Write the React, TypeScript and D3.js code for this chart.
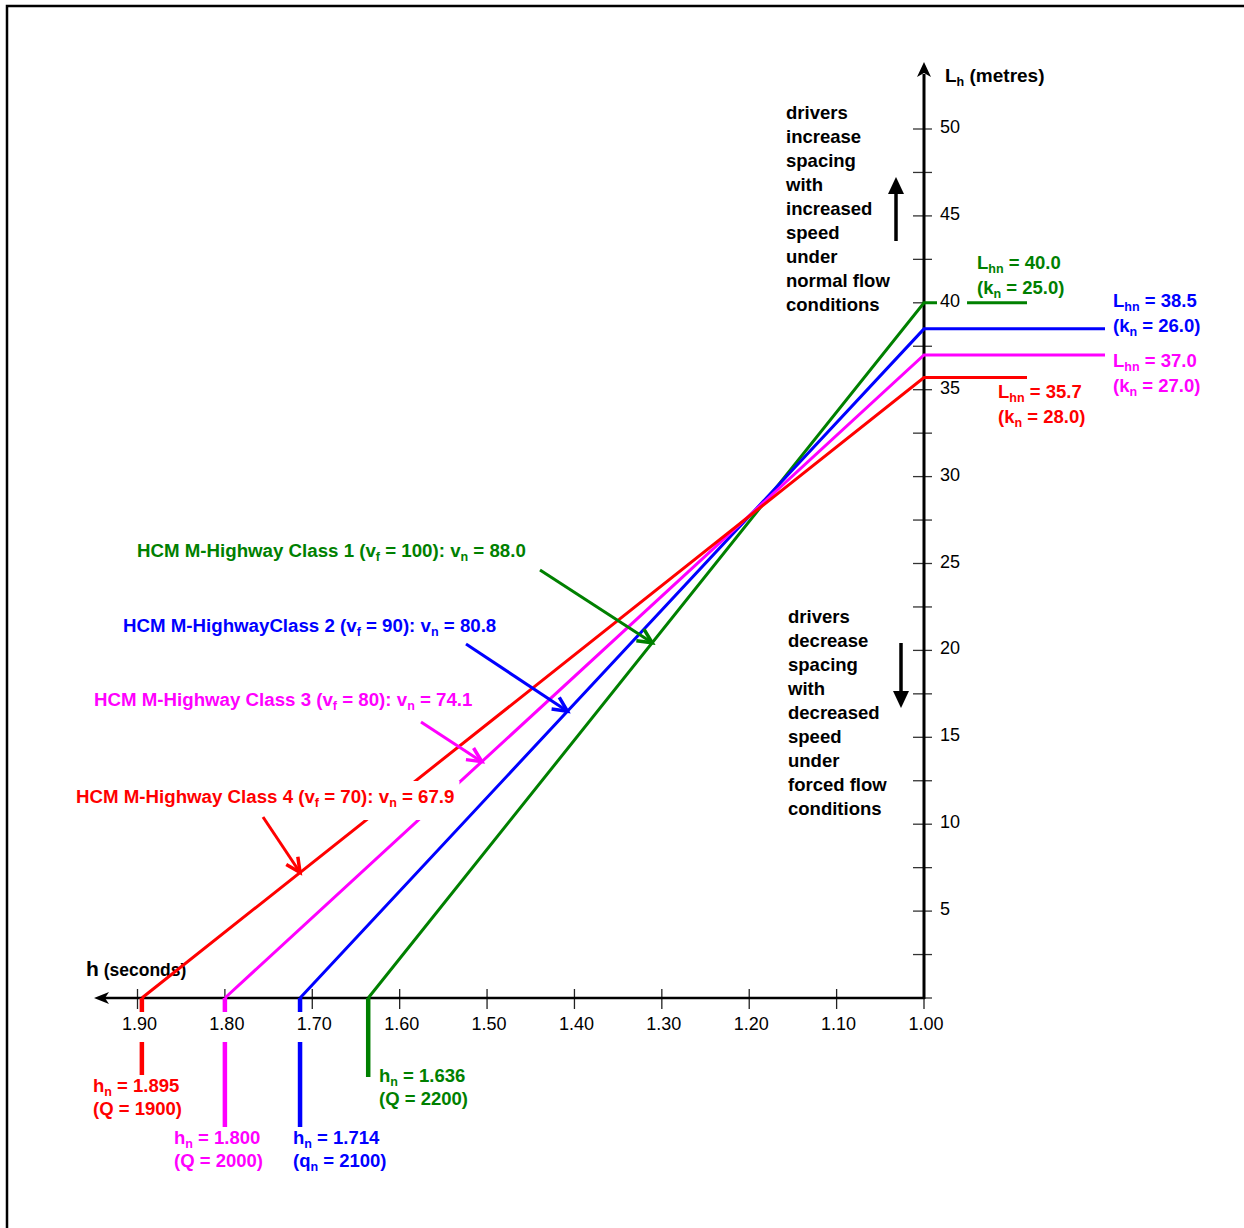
import React, { useRef, useEffect } from "react";
import * as d3 from "d3";

const W = 1244;
const H = 1228;
const FONT = "'Liberation Sans', Arial, Helvetica, sans-serif";

// series (one entry per HCM class)
const classNames = ["HCM M-Highway Class 1", "HCM M-HighwayClass 2", "HCM M-Highway Class 3", "HCM M-Highway Class 4"];
const freeFlowSpeeds = [100, 90, 80, 70];
const normalSpeeds = [88.0, 80.8, 74.1, 67.9];
const normalHeadways = [1.636, 1.714, 1.8, 1.895];
const normalSpacings = [40.0, 38.5, 37.0, 35.7];
const normalDensities = [25.0, 26.0, 27.0, 28.0];
const normalFlows = [2200, 2100, 2000, 1900];
const flowSymbols = [["Q", ""], ["q", "n"], ["Q", ""], ["Q", ""]];
const seriesColors = ["#008000", "#0000ff", "#ff00ff", "#ff0000"];
// headway where each label's pointer touches its line
const pointerHeadways = [1.311, 1.408, 1.506, 1.714];

// axes
const xTicks = [1.0, 1.1, 1.2, 1.3, 1.4, 1.5, 1.6, 1.7, 1.8, 1.9];
const yTicks = [0, 2.5, 5, 7.5, 10, 12.5, 15, 17.5, 20, 22.5, 25, 27.5, 30, 32.5, 35, 37.5, 40, 42.5, 45, 47.5, 50];
const yTickLabels = [5, 10, 15, 20, 25, 30, 35, 40, 45, 50];

const upperNote = ["drivers", "increase", "spacing", "with", "increased", "speed", "under", "normal flow", "conditions"];
const lowerNote = ["drivers", "decrease", "spacing", "with", "decreased", "speed", "under", "forced flow", "conditions"];

// layout (pixels)
const classLabelPos = [[137, 557], [123, 632], [94, 706], [76, 803]];
const pointerTails = [[540, 570], [466, 644], [421, 722], [263, 817]];
const spacingLabelPos = [[977, 269], [1113, 307], [1113, 367], [998, 398]];
const spacingLineEnd = [1027, 1105, 1105, 1027];
const headwayLabelPos = [[379, 1082], [293, 1144], [174, 1144], [93, 1092]];
const dropEnd = [1077, 1127, 1127, 1075];

type Part = [string, boolean];

function rich(g: any, x: number, y: number, parts: Part[], size: number, color: string) {
  const t = g.append("text")
    .attr("x", x).attr("y", y)
    .attr("font-family", FONT)
    .attr("font-weight", "bold")
    .attr("font-size", size)
    .attr("fill", color);
  let shift = 0;
  parts.forEach(([s, sub]) => {
    const target = sub ? 4 : 0;
    t.append("tspan")
      .attr("font-size", sub ? 12.5 : size)
      .attr("dy", target - shift)
      .text(s);
    shift = target;
  });
  return t;
}

function whiteBehind(g: any, text: any, pad: [number, number, number, number]) {
  const b = text.node().getBBox();
  g.insert("rect", () => text.node())
    .attr("x", b.x - pad[3])
    .attr("y", b.y - pad[0])
    .attr("width", b.width + pad[1] + pad[3])
    .attr("height", b.height + pad[0] + pad[2])
    .attr("fill", "white");
}

const App = () => {
  const svgRef = useRef<SVGSVGElement>(null);

  useEffect(() => {
    const svg = d3.select(svgRef.current);
    svg.selectAll("*").remove();

    const x = d3.scaleLinear().domain([1.0, 1.9]).range([924, 137.5]);
    const y = d3.scaleLinear().domain([0, 50]).range([998, 129]);
    const x0 = x(1.0);
    const y0 = y(0);

    // frame
    svg.append("rect")
      .attr("x", 7).attr("y", 6)
      .attr("width", 1400).attr("height", 1400)
      .attr("fill", "none").attr("stroke", "black").attr("stroke-width", 2.5);

    // h (seconds) label sits under the lines
    const hl = svg.append("text")
      .attr("x", 86).attr("y", 976)
      .attr("font-family", FONT).attr("font-weight", "bold").attr("fill", "black");
    hl.append("tspan").attr("font-size", 21).text("h");
    hl.append("tspan").attr("font-size", 17.5).text(" (seconds)");

    // axes
    const axes = svg.append("g");
    axes.selectAll(".yt").data(yTicks).enter().append("line")
      .attr("x1", x0 - 11).attr("x2", x0 + 8)
      .attr("y1", d => y(d)).attr("y2", d => y(d))
      .attr("stroke", "#333").attr("stroke-width", 1.3);
    axes.selectAll(".xt").data(xTicks).enter().append("line")
      .attr("x1", d => x(d)).attr("x2", d => x(d))
      .attr("y1", y0 - 9).attr("y2", y0 + 11)
      .attr("stroke", "#222").attr("stroke-width", 1.3);
    axes.append("line")
      .attr("x1", x0).attr("x2", x0).attr("y1", y0 + 1).attr("y2", 74)
      .attr("stroke", "black").attr("stroke-width", 3);
    axes.append("path")
      .attr("d", `M${x0},62 L${x0 - 7},77 L${x0},73 L${x0 + 7},77 Z`)
      .attr("fill", "black");
    axes.append("line")
      .attr("x1", x0 + 1).attr("x2", 104).attr("y1", y0).attr("y2", y0)
      .attr("stroke", "black").attr("stroke-width", 2.5);
    axes.append("path")
      .attr("d", `M94,${y0} L109,${y0 - 6} L105,${y0} L109,${y0 + 6} Z`)
      .attr("fill", "black");

    rich(svg, 945, 82, [["L", false], ["h", true], [" (metres)", false]], 19, "black");

    // series lines
    const lines = svg.append("g");
    classNames.forEach((_, i) => {
      const c = seriesColors[i];
      const hx = x(normalHeadways[i]);
      const ly = y(normalSpacings[i]);
      lines.append("path")
        .attr("d", d3.line()([[hx, y0], [x0, ly], [spacingLineEnd[i], ly]]))
        .attr("fill", "none").attr("stroke", c).attr("stroke-width", 3)
        .attr("stroke-linejoin", "miter");
      lines.append("line")
        .attr("x1", hx).attr("x2", hx).attr("y1", y0).attr("y2", dropEnd[i])
        .attr("stroke", c).attr("stroke-width", 4.5);
    });

    // tick labels with white boxes (they cut the lines)
    const tl = svg.append("g");
    yTickLabels.forEach(v => {
      const base = y(v) + 4;
      const t = tl.append("text")
        .attr("x", 940).attr("y", base)
        .attr("font-family", FONT).attr("font-size", 18).attr("fill", "black")
        .text(String(v));
      const b = (t.node() as SVGTextElement).getBBox();
      tl.insert("rect", () => t.node())
        .attr("x", b.x - 3).attr("y", base - 13)
        .attr("width", b.width + 10).attr("height", 17)
        .attr("fill", "white");
    });
    xTicks.forEach(v => {
      const t = tl.append("text")
        .attr("x", x(v) + 2).attr("y", 1030)
        .attr("text-anchor", "middle")
        .attr("font-family", FONT).attr("font-size", 18).attr("fill", "black")
        .text(v.toFixed(2));
      const b = (t.node() as SVGTextElement).getBBox();
      tl.insert("rect", () => t.node())
        .attr("x", b.x - 5).attr("y", 1012)
        .attr("width", b.width + 10).attr("height", 30)
        .attr("fill", "white");
    });

    // series labels
    const lab = svg.append("g");
    classNames.forEach((name, i) => {
      const c = seriesColors[i];
      const [cx, cy] = classLabelPos[i];
      const t = rich(lab, cx, cy, [
        [name + " (v", false], ["f", true],
        [` = ${freeFlowSpeeds[i]}): v`, false], ["n", true],
        [` = ${normalSpeeds[i].toFixed(1)}`, false],
      ], 18.7, c);
      whiteBehind(lab, t, [5, 5, 10, 6]);

      // pointer
      const [tx, ty] = pointerTails[i];
      const ph = pointerHeadways[i];
      const pL = normalSpacings[i] * (normalHeadways[i] - ph) / (normalHeadways[i] - 1.0);
      const px = x(ph);
      const py = y(pL);
      const ang = Math.atan2(py - ty, px - tx);
      const hlen = 16;
      const spread = 0.45;
      lab.append("line")
        .attr("x1", tx).attr("y1", ty).attr("x2", px).attr("y2", py)
        .attr("stroke", c).attr("stroke-width", 3);
      lab.append("path")
        .attr("d", d3.line()([
          [px - hlen * Math.cos(ang - spread), py - hlen * Math.sin(ang - spread)],
          [px, py],
          [px - hlen * Math.cos(ang + spread), py - hlen * Math.sin(ang + spread)],
        ]))
        .attr("fill", "none").attr("stroke", c).attr("stroke-width", 3.5);

      const [sx, sy] = spacingLabelPos[i];
      rich(lab, sx, sy, [["L", false], ["hn", true], [` = ${normalSpacings[i].toFixed(1)}`, false]], 18.5, c);
      rich(lab, sx, sy + 25, [["(k", false], ["n", true], [` = ${normalDensities[i].toFixed(1)})`, false]], 18.5, c);

      const [hx, hy] = headwayLabelPos[i];
      rich(lab, hx, hy, [["h", false], ["n", true], [` = ${normalHeadways[i].toFixed(3)}`, false]], 18.5, c);
      const [fs, fsub] = flowSymbols[i];
      const fparts: Part[] = fsub
        ? [["(" + fs, false], [fsub, true], [` = ${normalFlows[i]})`, false]]
        : [[`(${fs} = ${normalFlows[i]})`, false]];
      rich(lab, hx, hy + 23, fparts, 18.5, c);
    });

    // notes
    const notes = svg.append("g")
      .attr("font-family", FONT).attr("font-weight", "bold").attr("font-size", 18.5).attr("fill", "black");
    upperNote.forEach((s, i) => {
      notes.append("text").attr("x", 786).attr("y", 119 + i * 24).text(s);
    });
    lowerNote.forEach((s, i) => {
      notes.append("text").attr("x", 788).attr("y", 623 + i * 24).text(s);
    });
    notes.append("line").attr("x1", 896).attr("x2", 896).attr("y1", 241).attr("y2", 190)
      .attr("stroke", "black").attr("stroke-width", 3.5);
    notes.append("path").attr("d", "M896,177 L888,194 L904,194 Z").attr("fill", "black");
    notes.append("line").attr("x1", 901).attr("x2", 901).attr("y1", 643).attr("y2", 695)
      .attr("stroke", "black").attr("stroke-width", 3.5);
    notes.append("path").attr("d", "M901,708 L893,691 L909,691 Z").attr("fill", "black");
  }, []);

  return (
    <svg
      ref={svgRef}
      width={W}
      height={H}
      style={{ position: "absolute", left: 0, top: 0, background: "white", display: "block" }}
    />
  );
};

export default App;
